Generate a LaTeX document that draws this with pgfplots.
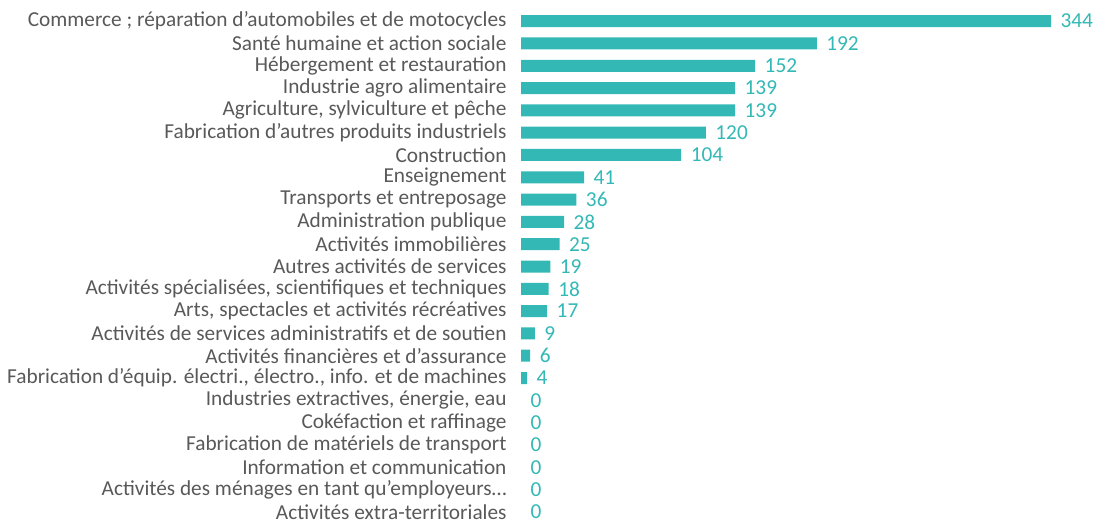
\documentclass[border=0pt]{standalone}
\usepackage{pgfplots}
\pgfplotsset{compat=1.18}
\usepackage{fontspec}
\setmainfont{Carlito}
\definecolor{barc}{HTML}{33B8B5}
\definecolor{labc}{HTML}{595959}
\begin{document}
\begin{tikzpicture}
\clip (0,0) rectangle (1095bp,521bp);
\useasboundingbox (0,0) rectangle (1095bp,521bp);
\begin{axis}[
  at={(521bp,511bp)}, anchor=north west,
  scale only axis,
  width=530bp, height=513bp,
  xbar, bar width=12bp, bar shift=0pt,
  xmin=0, xmax=344,
  ymin=-0.5, ymax=22.5,
  y dir=reverse,
  axis line style={draw=none},
  xtick=\empty,
  ytick={0,...,22},
  major tick length=0pt,
  yticklabel style={font=\fontsize{21.3bp}{22bp}\selectfont, text=labc, xshift=-11bp},
  yticklabels={
    {Commerce ; réparation d'automobiles et de motocycles},
    {Santé humaine et action sociale},
    {Hébergement et restauration},
    {Industrie agro alimentaire},
    {Agriculture, sylviculture et pêche},
    {Fabrication d'autres produits industriels},
    {Construction},
    {Enseignement},
    {Transports et entreposage},
    {Administration publique},
    {Activités immobilières},
    {Autres activités de services},
    {Activités spécialisées, scientifiques et techniques},
    {Arts, spectacles et activités récréatives},
    {Activités de services administratifs et de soutien},
    {Activités financières et d'assurance},
    {Fabrication d'équip. électri., électro., info. et de machines},
    {Industries extractives, énergie, eau},
    {Cokéfaction et raffinage},
    {Fabrication de matériels de transport},
    {Information et communication},
    {Activités des ménages en tant qu'employeurs…},
    {Activités extra-territoriales}
  },
  /pgf/number format/assume math mode=true,
  nodes near coords,
  nodes near coords style={font=\fontsize{21.3bp}{22bp}\selectfont, text=barc, anchor=west, xshift=6bp},
  clip=false,
]
\addplot[fill=barc, draw=none] coordinates {
  (344,0) (192,1) (152,2) (139,3) (139,4) (120,5) (104,6) (41,7) (36,8)
  (28,9) (25,10) (19,11) (18,12) (17,13) (9,14) (6,15) (4,16)
};
\addplot[fill=none, draw=none] coordinates {
  (0,17) (0,18) (0,19) (0,20) (0,21) (0,22)
};
\end{axis}
\end{tikzpicture}
\end{document}
